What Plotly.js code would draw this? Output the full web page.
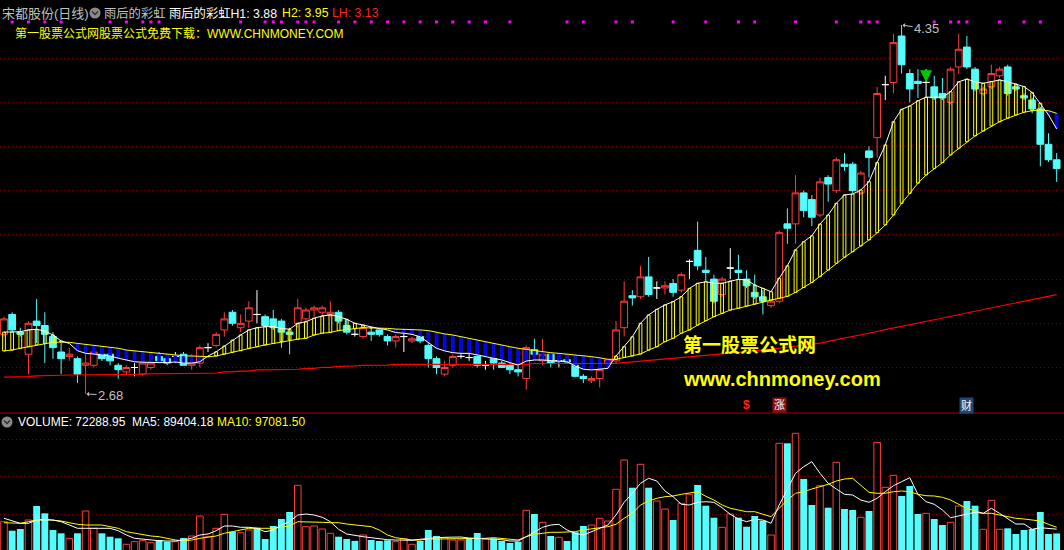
<!DOCTYPE html>
<html>
<head>
<meta charset="utf-8">
<script src="https://cdn.plot.ly/plotly-3.0.1.min.js"></script>
<style>
html,body{margin:0;padding:0;background:#000;}
#chart{width:1064px;height:550px;}
</style>
</head>
<body>
<div id="chart"></div>
<script>
// 宋都股份 daily bars (index 0 = oldest shown session)
const openP = [2.95,3.04,2.96,2.86,3.01,2.99,2.94,2.87,2.85,2.84,
 2.81,2.81,2.86,2.86,2.81,2.78,2.80,2.77,2.80,2.85,
 2.84,2.85,2.86,2.81,2.82,2.89,2.90,2.97,3.05,2.98,
 3.01,3.04,3.03,3.02,3.01,2.96,3.00,3.02,3.06,3.05,
 3.04,3.05,2.99,2.95,2.94,2.96,2.97,2.94,2.92,2.94,
 2.92,2.94,2.90,2.84,2.77,2.81,2.85,2.845,2.85,2.81,
 2.84,2.82,2.81,2.79,2.75,2.88,2.83,2.86,2.83,2.835,
 2.81,2.76,2.74,2.75,2.82,2.83,2.98,3.125,3.12,3.21,
 3.16,3.16,3.18,3.15,3.28,3.33,3.24,3.20,3.13,3.25,
 3.24,3.20,3.14,3.12,3.08,3.10,3.45,3.45,3.59,3.56,
 3.49,3.66,3.60,3.72,3.72,3.59,3.78,3.84,4.08,4.09,
 4.30,4.13,4.095,4.09,4.07,4.04,4.00,4.16,4.25,4.15,
 4.04,4.07,4.12,4.16,4.07,4.03,4.01,3.97,3.81,3.74];
const highP = [3.03,3.05,2.98,3.01,3.11,3.05,2.96,2.91,2.89,2.85,
 2.86,2.88,2.87,2.87,2.82,2.81,2.82,2.83,2.83,2.87,
 2.86,2.87,2.87,2.86,2.90,2.91,2.96,3.05,3.06,3.04,
 3.10,3.15,3.04,3.06,3.02,2.98,3.11,3.07,3.08,3.08,
 3.10,3.06,3.02,2.98,2.99,2.98,2.98,2.95,2.95,2.97,
 2.94,2.95,2.91,2.85,2.83,2.86,2.86,2.87,2.88,2.83,
 2.86,2.83,2.85,2.82,2.90,2.93,2.93,2.87,2.86,2.85,
 2.82,2.77,2.76,2.82,2.84,3.01,3.19,3.15,3.26,3.30,
 3.19,3.19,3.20,3.23,3.29,3.46,3.30,3.22,3.21,3.34,
 3.31,3.24,3.22,3.15,3.11,3.42,3.52,3.67,3.60,3.58,
 3.66,3.67,3.75,3.77,3.73,3.69,3.80,4.07,4.12,4.31,
 4.35,4.15,4.15,4.15,4.12,4.11,4.16,4.31,4.30,4.16,
 4.07,4.17,4.16,4.17,4.08,4.04,4.02,3.98,3.86,3.77];
const lowP = [2.94,2.96,2.94,2.77,2.91,2.82,2.84,2.77,2.83,2.73,
 2.68,2.80,2.83,2.81,2.75,2.77,2.76,2.76,2.79,2.82,
 2.81,2.82,2.81,2.79,2.80,2.87,2.89,2.94,2.99,2.96,
 2.98,3.00,2.98,2.97,2.89,2.86,2.98,3.01,3.03,3.03,
 3.03,3.00,2.95,2.94,2.93,2.92,2.94,2.90,2.89,2.87,
 2.91,2.91,2.80,2.77,2.76,2.80,2.84,2.83,2.80,2.79,
 2.79,2.80,2.77,2.76,2.70,2.84,2.81,2.80,2.80,2.82,
 2.755,2.73,2.73,2.71,2.81,2.82,2.94,3.08,3.11,3.12,
 3.11,3.13,3.12,3.14,3.20,3.24,3.19,3.09,3.12,3.20,
 3.20,3.16,3.11,3.04,3.07,3.09,3.36,3.36,3.48,3.44,
 3.48,3.55,3.59,3.69,3.59,3.58,3.66,3.75,4.01,4.04,
 4.13,4.00,4.02,4.02,4.01,4.01,3.99,4.13,4.15,4.05,
 4.03,4.06,4.11,4.03,4.05,4.01,3.95,3.71,3.73,3.64];
const closeP = [3.02,2.97,2.95,3.00,2.99,2.95,2.89,2.84,2.86,2.77,
 2.82,2.87,2.84,2.83,2.79,2.80,2.80,2.82,2.82,2.83,
 2.82,2.85,2.81,2.82,2.89,2.89,2.95,3.02,3.00,3.00,
 3.07,3.04,2.99,2.98,2.96,2.95,3.07,3.06,3.07,3.07,
 3.05,3.01,2.96,2.95,2.98,2.95,2.95,2.92,2.94,2.94,
 2.93,2.92,2.84,2.80,2.80,2.85,2.85,2.845,2.81,2.81,
 2.82,2.80,2.79,2.78,2.89,2.86,2.86,2.82,2.83,2.825,
 2.76,2.75,2.75,2.79,2.835,2.97,3.10,3.115,3.21,3.13,
 3.16,3.17,3.14,3.22,3.28,3.26,3.23,3.10,3.20,3.25,
 3.23,3.17,3.12,3.10,3.10,3.41,3.43,3.59,3.51,3.48,
 3.64,3.63,3.74,3.71,3.60,3.68,3.75,4.04,4.08,4.27,
 4.17,4.06,4.085,4.09,4.02,4.02,4.15,4.24,4.16,4.06,
 4.06,4.13,4.15,4.04,4.06,4.02,3.97,3.81,3.74,3.70];

// 雨后的彩虹: fast line (H1, white), slow line (H2, yellow), long line (LH, red)
const fastLine = [2.960,2.960,2.962,2.970,2.973,2.965,2.947,2.920,2.909,2.876,
 2.864,2.861,2.857,2.852,2.842,2.834,2.826,2.824,2.822,2.822,
 2.822,2.825,2.820,2.820,2.826,2.852,2.871,2.897,2.924,2.947,
 2.970,2.980,2.985,2.985,2.977,2.973,3.000,3.007,3.023,3.033,
 3.038,3.030,3.018,3.000,2.992,2.983,2.976,2.970,2.958,2.955,
 2.950,2.939,2.912,2.887,2.875,2.867,2.864,2.864,2.857,2.849,
 2.842,2.834,2.822,2.811,2.829,2.834,2.834,2.831,2.826,2.826,
 2.807,2.792,2.789,2.792,2.796,2.852,2.894,2.939,3.000,3.038,
 3.063,3.083,3.098,3.120,3.158,3.181,3.188,3.181,3.181,3.191,
 3.199,3.196,3.173,3.158,3.143,3.204,3.260,3.332,3.369,3.396,
 3.449,3.490,3.543,3.581,3.585,3.603,3.641,3.727,3.807,3.912,
 3.968,3.983,4.007,4.023,4.023,4.023,4.048,4.093,4.105,4.093,
 4.086,4.093,4.101,4.093,4.083,4.071,4.044,3.996,3.943,3.88];
const slowLine = [2.875,2.879,2.887,2.894,2.902,2.909,2.914,2.915,2.914,2.909,
 2.905,2.899,2.894,2.891,2.887,2.879,2.875,2.871,2.869,2.864,
 2.861,2.857,2.853,2.852,2.849,2.849,2.852,2.861,2.869,2.876,
 2.887,2.894,2.902,2.909,2.917,2.924,2.928,2.932,2.947,2.955,
 2.959,2.967,2.973,2.976,2.980,2.980,2.979,2.977,2.974,2.973,
 2.973,2.970,2.967,2.959,2.952,2.947,2.939,2.932,2.924,2.917,
 2.909,2.902,2.894,2.887,2.882,2.875,2.871,2.867,2.864,2.861,
 2.857,2.852,2.849,2.844,2.837,2.837,2.846,2.852,2.861,2.879,
 2.894,2.917,2.932,2.955,2.970,2.992,3.012,3.030,3.045,3.060,
 3.068,3.078,3.087,3.098,3.105,3.113,3.122,3.140,3.162,3.185,
 3.212,3.241,3.272,3.299,3.324,3.350,3.377,3.410,3.445,3.490,
 3.543,3.588,3.634,3.671,3.701,3.727,3.762,3.792,3.822,3.848,
 3.870,3.893,3.912,3.928,3.943,3.955,3.962,3.965,3.962,3.95];
const longLine = [2.756,2.756,2.756,2.759,2.762,2.764,2.765,2.765,2.766,2.766,
 2.766,2.766,2.769,2.769,2.769,2.769,2.769,2.771,2.771,2.771,
 2.771,2.771,2.773,2.774,2.774,2.774,2.775,2.780,2.780,2.784,
 2.784,2.789,2.789,2.789,2.792,2.792,2.792,2.796,2.796,2.801,
 2.801,2.805,2.805,2.807,2.810,2.810,2.810,2.811,2.814,2.814,
 2.814,2.814,2.814,2.814,2.814,2.814,2.814,2.814,2.814,2.814,
 2.814,2.814,2.814,2.814,2.814,2.818,2.818,2.818,2.818,2.818,
 2.818,2.818,2.818,2.818,2.818,2.819,2.822,2.825,2.829,2.832,
 2.835,2.839,2.842,2.845,2.848,2.852,2.855,2.858,2.862,2.865,
 2.868,2.872,2.876,2.879,2.883,2.887,2.891,2.895,2.900,2.905,
 2.910,2.918,2.925,2.933,2.940,2.948,2.956,2.963,2.971,2.978,
 2.986,2.994,3.001,3.009,3.016,3.024,3.032,3.039,3.047,3.054,
 3.062,3.070,3.077,3.085,3.092,3.100,3.108,3.115,3.123,3.13];

// Volume (lots) and its 5/10-day averages
const volume = [119200,83200,90000,126000,182000,152800,86000,72800,52800,72800,
 162000,92800,72800,59200,52800,28800,39200,43200,35200,46000,
 39200,39200,54000,62000,142000,59200,92800,148800,79200,75200,
 86000,95200,50000,102000,130000,158000,264800,99200,102000,90000,
 72800,59200,50000,42600,66000,46000,42000,44800,39200,51200,
 28800,42000,86000,62000,55200,46000,46000,52800,74000,50000,
 52800,42000,34000,39200,164800,150000,116800,62000,56800,42000,
 76800,102000,106000,132800,122000,248800,366000,255200,348800,255200,
 202000,170000,126000,192800,228800,266000,183200,135200,96800,150000,
 135200,99200,142000,123200,66000,432800,432800,472800,290000,186000,
 263200,175200,356800,170000,166000,136800,162000,436800,256800,304800,
 222000,262000,150000,152800,130000,106000,116800,182000,202000,183200,
 88800,204800,88800,92800,70000,86000,90000,158000,70000,72288.95];
const volMA5 = [132800,122000,112800,112800,126000,126000,126000,119200,106000,92800,
 92800,92800,92800,92800,83200,66000,52800,48800,46000,43200,
 42000,42000,46000,52800,66000,70000,83200,102000,102000,96800,
 96800,92800,79200,86000,106000,119200,146000,150000,146000,136800,
 119200,88800,70000,64000,59200,55200,50000,47200,46000,46000,
 44800,48800,52800,55200,56800,58000,58000,54000,52800,50000,
 50000,47200,42000,42000,59200,79200,96800,106000,108800,86000,
 72800,66000,79200,92800,106000,146000,196800,232800,272800,292800,
 282000,242000,219200,188800,186000,196800,199200,196800,175200,148800,
 130000,119200,128800,126000,112800,186000,252800,312800,339200,359200,
 312800,272800,250000,228800,226000,206000,196800,212800,239200,263200,
 279200,295200,228800,199200,188800,166000,135200,142000,150000,156800,
 152800,172800,152800,130000,110000,110000,88800,95200,92800,89404.18];
const volMA10 = [115200,112800,112800,119200,126000,128800,126000,122000,115200,108800,
 106000,106000,106000,99200,92800,79200,72800,66000,62000,59200,
 52800,46000,43200,46000,52800,56800,62000,72800,79200,86000,
 92800,92800,92800,92800,96800,102000,119200,119200,116800,116800,
 115200,115200,110000,106000,103200,99200,86000,66000,55200,50000,
 46000,46000,50000,50000,50000,50000,51200,52800,52800,52800,
 55200,52800,50000,46000,59200,68800,72800,76800,76800,76800,
 79200,86000,90000,95200,99200,108800,132800,152800,186000,202000,
 212800,219200,222000,228800,232800,239200,220800,206000,186000,172800,
 166000,159200,159200,150000,139200,172800,206000,232800,239200,250000,
 259200,268800,282000,290000,292800,266000,236800,232800,232800,239200,
 242000,239200,228800,223200,222000,216800,206000,188800,172800,162000,
 152800,152800,146000,139200,132800,130000,126000,122000,108800,97081.50];

// Signal marks: dots on the top row, sell arrow, event badges
const dotSignals = [1,3,5,7,13,15,17,18,19,29,32,33,34,36,37,38,41,43,45,47,49,51,53,55,57,59,62,
 69,71,75,77,82,86,90,92,97,102,105,106,107,114,116,117,118,122,125,127];
const sellSignals = [113];
const eventIdx = [91, 95, 118];
const eventText = ['$', '涨', '财'];

// ---------- drawing ----------
const W = 1064, H = 550;
const px = v => v / W;
const py = v => 1 - v / H;
const SPLIT = 413;                       // row where the volume pane starts
const RED = '#ff3c3c', CYAN = '#54fcfc', YEL = '#ffff00', GRID = '#7a0000';
const FONT = 'Liberation Sans, Noto Sans CJK SC, sans-serif';
const idx = openP.map((_, i) => i);

const isDoji = idx.map(i => openP[i] === closeP[i]);
const isUp = idx.map(i => closeP[i] > openP[i] ||
  (closeP[i] === openP[i] && (i === 0 || closeP[i] >= closeP[i - 1])));
const pick = (arr, cond) => idx.map(i => cond(i) ? arr[i] : null);

const traces = [];
// regular candles
traces.push({
  type: 'candlestick', x: idx,
  open: pick(openP, i => !isDoji[i]), high: pick(highP, i => !isDoji[i]),
  low: pick(lowP, i => !isDoji[i]), close: pick(closeP, i => !isDoji[i]),
  increasing: {line: {color: RED, width: 1}, fillcolor: '#000000'},
  decreasing: {line: {color: CYAN, width: 1}, fillcolor: CYAN},
  whiskerwidth: 0, hoverinfo: 'skip', xaxis: 'x', yaxis: 'y'
});
// doji crosses
traces.push({
  type: 'candlestick', x: idx,
  open: pick(openP, i => isDoji[i]), high: pick(highP, i => isDoji[i]),
  low: pick(lowP, i => isDoji[i]), close: pick(closeP, i => isDoji[i]),
  increasing: {line: {color: '#ffffff', width: 1}, fillcolor: '#ffffff'},
  decreasing: {line: {color: '#ffffff', width: 1}, fillcolor: '#ffffff'},
  whiskerwidth: 0, hoverinfo: 'skip', xaxis: 'x', yaxis: 'y'
});

// rainbow sticks between the fast and slow lines
const half = 0.17;
const upX = [], upY = [], dnX = [], dnY = [];
idx.forEach(i => {
  const lo = Math.min(fastLine[i], slowLine[i]);
  const hi = Math.max(fastLine[i], slowLine[i]);
  const xs = [i - half, i + half, i + half, i - half, i - half, null];
  const ys = [lo, lo, hi, hi, lo, null];
  if (fastLine[i] >= slowLine[i]) { upX.push(...xs); upY.push(...ys); }
  else { dnX.push(...xs); dnY.push(...ys); }
});
traces.push({type: 'scatter', mode: 'lines', x: dnX, y: dnY, fill: 'toself',
  fillcolor: '#0000ff', line: {color: '#1010e0', width: 0.8}, hoverinfo: 'skip'});
traces.push({type: 'scatter', mode: 'lines', x: upX, y: upY,
  line: {color: YEL, width: 1}, hoverinfo: 'skip'});
traces.push({type: 'scatter', mode: 'lines', x: idx, y: longLine,
  line: {color: '#ff0000', width: 1.2}, hoverinfo: 'skip'});
traces.push({type: 'scatter', mode: 'lines', x: idx, y: slowLine,
  line: {color: YEL, width: 1}, hoverinfo: 'skip'});
traces.push({type: 'scatter', mode: 'lines', x: idx, y: fastLine,
  line: {color: '#ffffff', width: 1}, hoverinfo: 'skip'});

// magenta signal dots along the top row
traces.push({type: 'scatter', mode: 'markers', x: dotSignals,
  y: dotSignals.map(() => 22), yaxis: 'y3',
  marker: {symbol: 'square', size: 3, color: '#ff00ff', line: {width: 0}}, hoverinfo: 'skip'});

// volume pane
traces.push({type: 'bar', x: idx, y: pick(volume, i => !isUp[i]), xaxis: 'x', yaxis: 'y2',
  width: 0.84, marker: {color: CYAN, line: {color: CYAN, width: 0}}, hoverinfo: 'skip'});
traces.push({type: 'bar', x: idx, y: pick(volume, i => isUp[i]), xaxis: 'x', yaxis: 'y2',
  width: 0.8, marker: {color: '#000000', line: {color: RED, width: 1}}, hoverinfo: 'skip'});
traces.push({type: 'scatter', mode: 'lines', x: idx, y: volMA10, xaxis: 'x', yaxis: 'y2',
  line: {color: YEL, width: 1}, hoverinfo: 'skip'});
traces.push({type: 'scatter', mode: 'lines', x: idx, y: volMA5, xaxis: 'x', yaxis: 'y2',
  line: {color: '#ffffff', width: 1}, hoverinfo: 'skip'});

// ---------- texts ----------
const ann = [];
const label = (x, y, text, color, size, extra) => ann.push(Object.assign({
  xref: 'paper', yref: 'paper', x: px(x), y: py(y), xanchor: 'left', yanchor: 'middle',
  text, showarrow: false, font: {family: FONT, size, color}, borderpad: 0
}, extra || {}));

label(1, 13, '宋都股份(日线)', '#c0c0c0', 13);
label(103, 13, '雨后的彩虹', '#c0c0c0', 12.3);
label(168, 13, '雨后的彩虹H1: ' + fastLine[fastLine.length - 1].toFixed(2), '#ffffff', 12.3);
label(281, 13, 'H2: ' + slowLine[slowLine.length - 1].toFixed(2), YEL, 12.3);
label(331, 13, 'LH: ' + longLine[longLine.length - 1].toFixed(2), '#ff2020', 12.3);
label(14, 34, '第一股票公式网股票公式免费下载：WWW.CHNMONEY.COM', YEL, 12);

const lastV = volume[volume.length - 1], lastM5 = volMA5[volMA5.length - 1], lastM10 = volMA10[volMA10.length - 1];
label(17, 422, 'VOLUME: ' + lastV.toFixed(2) + '  MA5: ' + lastM5.toFixed(2), '#ffffff', 12);
label(216, 422, 'MA10: ' + lastM10.toFixed(2), YEL, 12);

// watermark
label(682, 345, '<b>第一股票公式网</b>', YEL, 19);
label(682, 379, '<b>www.chnmoney.com</b>', YEL, 20);

// extreme price marks
const hiVal = Math.max(...highP), hiIdx = highP.indexOf(hiVal);
const loVal = Math.min(...lowP), loIdx = lowP.indexOf(loVal);
[[hiIdx, hiVal, 4], [loIdx, loVal, 1]].forEach(([i, v, dy]) => ann.push({
  xref: 'x', yref: 'y', x: i, y: v, text: v.toFixed(2), showarrow: true,
  ax: 25, ay: dy, arrowhead: 1, arrowsize: 0.8, arrowwidth: 1, arrowcolor: '#c0c0c0',
  standoff: 1, font: {family: FONT, size: 13, color: '#c0c0c0'}
}));

// sell arrow
sellSignals.forEach(i => ann.push({
  xref: 'x', yref: 'y', x: i, y: closeP[i], text: '', showarrow: true,
  ax: 0, ay: -15, arrowhead: 2, arrowsize: 1.1, arrowwidth: 2.2, arrowcolor: '#00c800', standoff: 0
}));

// event badges
eventIdx.forEach((i, k) => {
  const t = eventText[k];
  const badge = t === '$' ? {} :
    {bgcolor: t === '涨' ? '#8c1010' : '#1c4a78', borderpad: 1};
  ann.push(Object.assign({
    xref: 'x', yref: 'paper', x: i, y: py(405), xanchor: 'center', yanchor: 'middle',
    text: t === '$' ? '<b>$</b>' : t, showarrow: false,
    font: {family: FONT, size: t === '$' ? 12 : 11, color: t === '$' ? '#ff2020' : '#ffffff'}
  }, badge));
});

// small round menu icons
const shapes = [];
[[95, 13], [7, 422]].forEach(([cx, cy]) => {
  shapes.push({type: 'circle', xref: 'paper', yref: 'paper',
    x0: px(cx - 5.5), x1: px(cx + 5.5), y0: py(cy + 5.5), y1: py(cy - 5.5),
    fillcolor: '#8a8a8a', line: {width: 0}});
  shapes.push({type: 'path', xref: 'paper', yref: 'paper',
    path: `M ${px(cx - 3)},${py(cy - 1.5)} L ${px(cx)},${py(cy + 1.5)} L ${px(cx + 3)},${py(cy - 1.5)}`,
    line: {color: '#303030', width: 1.5}});
});
// pane separator
shapes.push({type: 'line', xref: 'paper', yref: 'paper', x0: 0, x1: 1,
  y0: py(SPLIT), y1: py(SPLIT), line: {color: '#b00000', width: 1}});

const layout = {
  width: W, height: H, margin: {l: 0, r: 0, t: 0, b: 0},
  paper_bgcolor: '#000000', plot_bgcolor: '#000000',
  showlegend: false, barmode: 'overlay',
  boxmode: 'overlay', boxgap: 0.17, boxgroupgap: 0,
  xaxis: {range: [-0.49, 129.9], showgrid: false, zeroline: false, showticklabels: false,
    showline: false, ticks: '', rangeslider: {visible: false}, fixedrange: true, anchor: 'y2'},
  yaxis: {domain: [py(SPLIT), 1], range: [2.5941, 4.4629],
    tickvals: [2.8, 3.0, 3.2, 3.4, 3.6, 3.8, 4.0, 4.2], showticklabels: false, ticks: '',
    gridcolor: GRID, griddash: '1px,3px', gridwidth: 1, zeroline: false, showline: false, fixedrange: true},
  yaxis2: {domain: [0, py(SPLIT)], range: [6000, 554000],
    tickvals: [150000, 300000, 450000], showticklabels: false, ticks: '',
    gridcolor: GRID, griddash: '1px,3px', gridwidth: 1, zeroline: false, showline: false, fixedrange: true},
  yaxis3: {overlaying: 'y', range: [SPLIT, 0], visible: false, fixedrange: true},
  annotations: ann, shapes: shapes
};

Plotly.newPlot('chart', traces, layout, {staticPlot: true, displayModeBar: false});
</script>
</body>
</html>
